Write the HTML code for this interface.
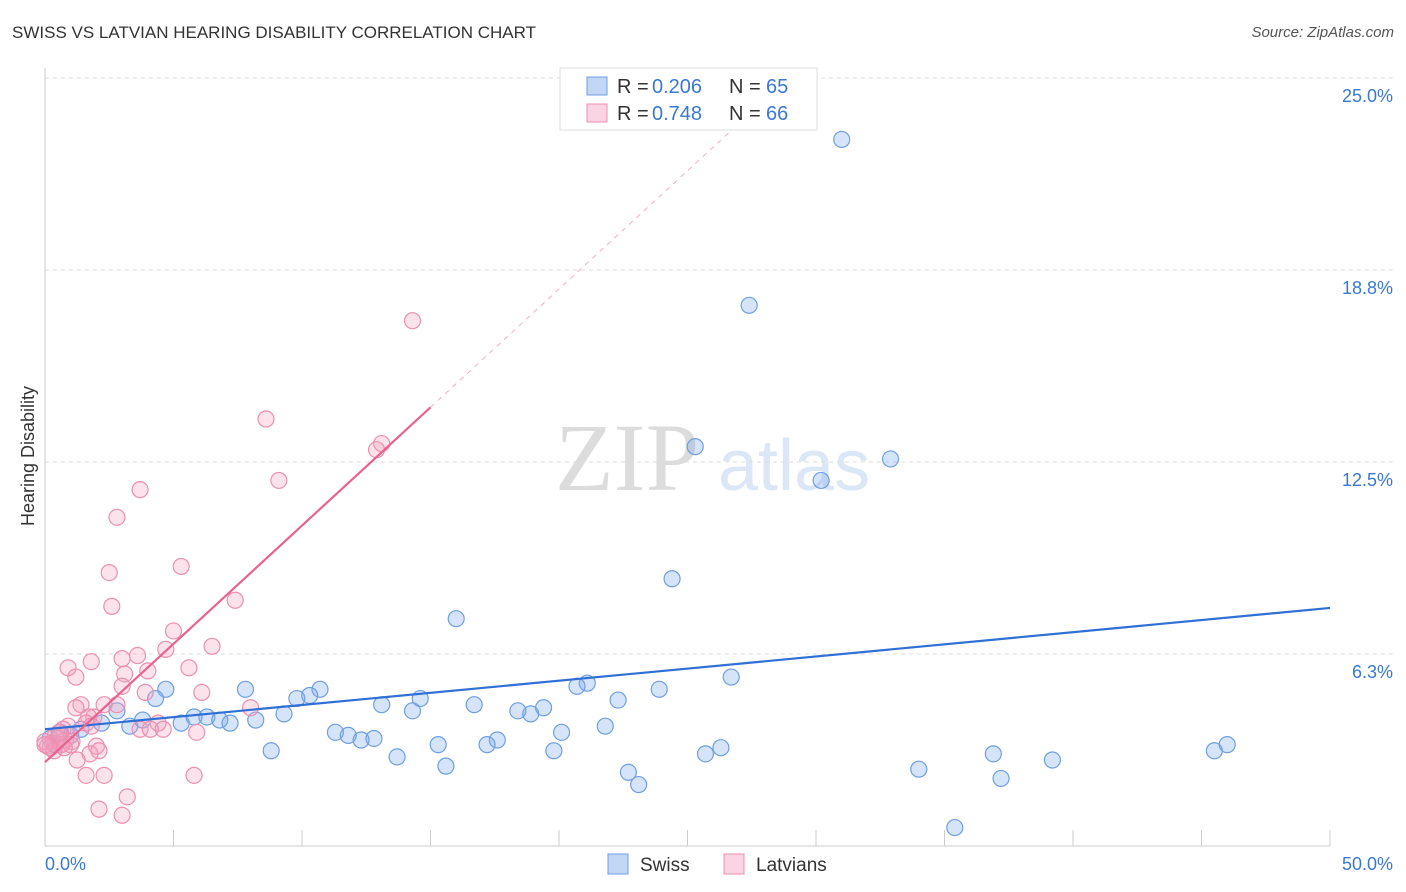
<!DOCTYPE html>
<html><head><meta charset="utf-8"><style>
body{margin:0;background:#fff;font-family:"Liberation Sans",sans-serif;}
#wrap{position:relative;width:1406px;height:892px;overflow:hidden;}
.t{position:absolute;white-space:nowrap;}
</style></head><body>
<div id="wrap">
<div class="t" style="left:12px;top:23px;font-size:17px;color:#333;">SWISS VS LATVIAN HEARING DISABILITY CORRELATION CHART</div>
<div class="t" style="right:12px;top:24px;font-size:15px;color:#555;font-style:italic;">Source: ZipAtlas.com</div>
<svg id="svg" width="1406" height="892" style="position:absolute;left:0;top:0"></svg>
</div>
<script>
const xTicks=[0,50];
const yTicks=[6.25,12.5,18.75,25];
const yTickLabels=["6.3%","12.5%","18.8%","25.0%"];
const swissX=[31.0,27.4,25.3,30.2,32.9,24.4,16.0,4.7,7.8,10.7,10.3,9.8,14.6,26.7,23.9,21.1,20.7,22.3,19.4,16.7,18.4,18.9,13.1,14.3,9.3,4.3,2.8,5.8,6.3,6.8,7.2,8.2,5.3,3.8,3.3,2.2,1.4,0.6,0.2,0.4,1.0,21.8,20.1,11.3,11.8,12.8,12.3,17.6,17.2,15.3,19.8,25.7,26.3,8.8,13.7,15.6,22.7,23.1,34.0,36.9,37.2,39.2,45.5,46.0,35.4];
const swissY=[23.0,17.6,13.0,11.9,12.6,8.7,7.4,5.1,5.1,5.1,4.9,4.8,4.8,5.5,5.1,5.3,5.2,4.75,4.5,4.6,4.4,4.3,4.6,4.4,4.3,4.8,4.4,4.2,4.2,4.1,4.0,4.1,4.0,4.1,3.9,4.0,3.8,3.7,3.5,3.3,3.6,3.9,3.7,3.7,3.6,3.5,3.45,3.45,3.3,3.3,3.1,3.0,3.2,3.1,2.9,2.6,2.4,2.0,2.5,3.0,2.2,2.8,3.1,3.3,0.6];
const latX=[14.3,8.6,13.1,12.9,9.1,3.7,2.8,5.3,2.5,2.6,7.4,5.0,6.5,4.7,3.6,3.0,1.8,0.9,4.0,5.6,1.2,3.1,3.0,3.9,6.1,8.0,2.3,2.8,1.4,1.2,1.9,1.7,1.6,4.4,0.9,0.7,1.8,3.7,4.1,4.6,5.9,0.4,0.8,1.05,0.3,0.6,0.1,2.0,2.1,1.75,1.25,1.6,2.3,5.8,2.1,3.2,3.0,0.5,0.65,0.2,1.0,0.0,0.35,0.55,0.75,0.0];
const latY=[17.1,13.9,13.1,12.9,11.9,11.6,10.7,9.1,8.9,7.8,8.0,7.0,6.5,6.4,6.2,6.1,6.0,5.8,5.7,5.8,5.5,5.6,5.2,5.0,5.0,4.5,4.6,4.6,4.6,4.5,4.2,4.2,4.0,4.0,3.9,3.8,3.9,3.8,3.8,3.8,3.7,3.6,3.45,3.4,3.35,3.3,3.25,3.25,3.1,3.0,2.8,2.3,2.3,2.3,1.2,1.6,1.0,3.5,3.3,3.2,3.3,3.4,3.1,3.7,3.2,3.3];
const swissFit=[3.8,0.079];   // intercept, slope
const latFit=[2.73,0.77];

const X0=45,X1=1330,Y0=846,Y1=78;
const sx=v=>X0+(v-0)/(50-0)*(X1-X0);
const sy=v=>Y0-(v-0)/(25-0)*(Y0-Y1);
const svg=document.getElementById('svg');
const NS='http://www.w3.org/2000/svg';
function mk(tag,attrs){const e=document.createElementNS(NS,tag);for(const k in attrs)e.setAttribute(k,attrs[k]);svg.appendChild(e);return e;}

let w=mk('text',{x:555,y:490,'font-size':96,'font-family':'Liberation Serif, serif',fill:'#dcdcdc'});w.textContent='ZIP';


let w2=mk('text',{x:718,y:490,'font-size':72,'font-family':'Liberation Sans, sans-serif',fill:'#dbe6f6'});w2.textContent='atlas';



yTicks.forEach((v,i)=>{
 const g=mk('line',{x1:X0,x2:1394,y1:sy(v),y2:sy(v),stroke:'#ddd','stroke-dasharray':'4,4'});
 
 
 const t=mk('text',{x:1393,y:sy(v)+24,'text-anchor':'end','font-size':18,fill:'#3a78d8'});t.textContent=yTickLabels[i];
 
 
});
let ax=mk('line',{x1:X0,x2:X0,y1:68,y2:Y0,stroke:'#ccc'});


let bx=mk('line',{x1:X0,x2:X1,y1:Y0,y2:Y0,stroke:'#ccc'});


for(let v=5;v<=50;v+=5){const l=mk('line',{x1:sx(v),x2:sx(v),y1:830,y2:Y0,stroke:'#ccc'});
 
 }
xTicks.forEach((v,i)=>{const t=mk('text',{x:i==0?45:1393,y:870,'text-anchor':i==0?'start':'end','font-size':18,fill:'#3a78d8'});t.textContent=v.toFixed(1)+'%';
 
 });
let yt=mk('text',{x:34,y:456,'text-anchor':'middle','font-size':18,fill:'#333',transform:'rotate(-90 34 456)'});yt.textContent='Hearing Disability';



swissX.forEach((x,i)=>{const c=mk('circle',{cx:sx(x),cy:sy(swissY[i]),r:8,fill:'rgba(120,165,235,0.3)',stroke:'#6f9fe0','stroke-width':1.2});
 
 });
latX.forEach((x,i)=>{const c=mk('circle',{cx:sx(x),cy:sy(latY[i]),r:8,fill:'rgba(245,160,190,0.3)',stroke:'#ec8fb0','stroke-width':1.2});
 
 });

let bl=mk('line',{x1:sx(0),y1:sy(swissFit[0]),x2:sx(50),y2:sy(swissFit[0]+50*swissFit[1]),stroke:'#2f6fd6','stroke-width':2.2});


let pl=mk('line',{x1:sx(0),y1:sy(latFit[0]),x2:sx(15),y2:sy(latFit[0]+15*latFit[1]),stroke:'#e8638f','stroke-width':2.2});


const xe=(25-latFit[0])/latFit[1];
let pd=mk('line',{x1:sx(15),y1:sy(latFit[0]+15*latFit[1]),x2:sx(xe),y2:sy(25),stroke:'#f0b0c5','stroke-width':1,'stroke-dasharray':'5,5'});



let lb=mk('rect',{x:560,y:68,width:257,height:62,fill:'#fff',stroke:'#ddd'});


[[0,'0.206','65','rgba(120,165,235,0.45)','#6f9fe0'],[1,'0.748','66','rgba(245,160,190,0.45)','#ec8fb0']].forEach(([i,r,n,f,s])=>{
 const y=86+i*27;
 const sq=mk('rect',{x:587,y:y-9,width:20,height:18,fill:f,stroke:s});
 
 
 [[617,'R =','#333'],[652,r,'#3a78d8'],[729,'N =','#333'],[766,n,'#3a78d8']].forEach(([x,txt,c])=>{
  const t=mk('text',{x:x,y:y+7,'font-size':20,fill:c});t.textContent=txt;
  
  
 });
});
[[608,'Swiss','rgba(120,165,235,0.45)','#6f9fe0'],[724,'Latvians','rgba(245,160,190,0.45)','#ec8fb0']].forEach(([x,l,f,s])=>{
 const sq=mk('rect',{x:x,y:854,width:20,height:20,fill:f,stroke:s});
 
 
 const t=mk('text',{x:x+32,y:871,'font-size':19,fill:'#333'});t.textContent=l;
 
 
});
</script>
</body></html>
